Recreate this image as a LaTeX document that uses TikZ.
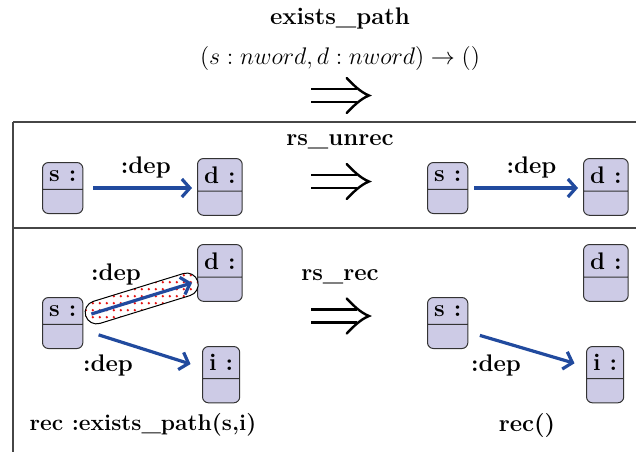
\documentclass[tikz,border=0pt]{standalone}
\usetikzlibrary{shapes.multipart,arrows.meta,patterns.meta,calc}
\definecolor{boxfill}{RGB}{205,203,230}
\definecolor{arrblue}{RGB}{33,74,158}
\definecolor{framegray}{RGB}{70,70,70}
\definecolor{dotred}{RGB}{230,20,20}
\tikzdeclarepattern{name=bigdots, type=uncolored,
  bottom left={(-0.1pt,-0.1pt)}, top right={(3.6pt,3.6pt)},
  tile size={(3.5pt,3.5pt)},
  code={\fill (0.9pt,0.9pt) circle (0.65pt);}}
\begin{document}
\begin{tikzpicture}[x=0.5pt,y=-0.5pt,
  every node/.style={font=\fontsize{12}{14}\selectfont},
  var/.style={rectangle split, rectangle split parts=2, draw=black!80,
    line width=0.5pt, fill=boxfill, rounded corners=3pt, inner xsep=3.3pt,
    inner ysep=3.7pt, font=\fontsize{12}{14}\selectfont\bfseries, anchor=north west},
  dep/.style={draw=arrblue, line width=1.6pt, -{Straight Barb[length=4pt,width=9pt]}},
  lbl/.style={font=\fontsize{12}{14}\selectfont\bfseries},
  framel/.style={draw=framegray, line width=0.7pt},
  hilite/.style={draw=black, line width=0.5pt, preaction={fill=white},
    pattern=bigdots, pattern color=dotred, rounded corners=5.75pt,
    minimum height=11.5pt, inner sep=0pt},
  implies/.pic={
    \draw[line width=1.2pt] (-29,-6.5) -- (17,-6.5) (-29,6.5) -- (17,6.5);
    \draw[line width=1.2pt, line cap=round]
      (6.7,-17.5) .. controls (12,-12) and (20,-3.5) .. (29,0)
      .. controls (20,3.5) and (12,12) .. (6.7,17.5);
  }]
\useasboundingbox (0,0) rectangle (636,452);

% header
\node[lbl] (title) at (340,18) {exists\_path};
\node (sig) at (340,58) {$(s:nword, d:nword)\rightarrow()$};
\pic at (340,95.5) {implies};

% frame
\draw[framel] (13,122) -- (636,122);
\draw[framel] (13,228) -- (636,228);
\draw[framel] (13,122) -- (13,452);

% row 1
\node[lbl] (r1) at (340,142) {rs\_unrec};
\pic at (340,181.5) {implies};
\node[var] (s1) at (42,162) {s :\nodepart{two}\rule{0pt}{4.2pt}};
\node[var] (d1) at (197,158) {d :\nodepart{two}\rule{0pt}{4.2pt}};
\draw[dep, shorten <=5pt, shorten >=2.5pt] (s1.east) -- (s1.east -| d1.west)
  node[lbl, pos=0.55, above=1pt] (l1) {:dep};
\node[var] (s1r) at (427,162) {s :\nodepart{two}\rule{0pt}{4.2pt}};
\node[var] (d1r) at (583,158) {d :\nodepart{two}\rule{0pt}{4.2pt}};
\draw[dep, shorten <=3pt, shorten >=2.5pt] (s1r.east) -- (s1r.east -| d1r.west)
  node[lbl, pos=0.55, above=1pt] (l1r) {:dep};

% row 2
\node[lbl] (r2) at (340,277) {rs\_rec};
\pic at (340,316) {implies};
\node[var] (s2) at (42,297) {s :\nodepart{two}\rule{0pt}{4.2pt}};
\node[var] (d2) at (197,244) {d :\nodepart{two}\rule{0pt}{4.2pt}};
\node[var] (i2) at (202,346) {i :\nodepart{two}\rule{0pt}{4.2pt}};
\coordinate (a2) at ($(s2.east)+(8,-9)$);
\coordinate (b2) at ($(d2.west)+(-5,10)$);
\path let \p1=(a2), \p2=(b2),
  \n1={atan2(\y2-\y1,\x2-\x1)}, \n2={veclen(\x2-\x1,\y2-\y1)} in
  node[hilite, rotate=\n1, minimum width=\n2+6pt] (hl) at ($(a2)!0.5!(b2)$) {};
\draw[dep] (a2) -- (b2);
\draw[dep, shorten <=8pt, shorten >=6pt] ([yshift=-3.5pt]s2.east) -- ([yshift=3.5pt]i2.west);
\node[lbl] (l2a) at (116,274) {:dep};
\node[lbl] (l2b) at (108,365) {:dep};
\node[lbl, font=\fontsize{11.4}{13}\selectfont\bfseries] (rec1) at (143,425) {rec :exists\_path(s,i)};

\node[var] (s2r) at (427,297) {s :\nodepart{two}\rule{0pt}{4.2pt}};
\node[var] (d2r) at (583,244) {d :\nodepart{two}\rule{0pt}{4.2pt}};
\node[var] (i2r) at (586,346) {i :\nodepart{two}\rule{0pt}{4.2pt}};
\draw[dep, shorten <=6pt, shorten >=6pt] ([yshift=-4.5pt]s2r.east) -- ([yshift=4pt]i2r.west);
\node[lbl] (l2r) at (496,365) {:dep};
\node[lbl] (rec2) at (527,425) {rec()};
\end{tikzpicture}
\end{document}
